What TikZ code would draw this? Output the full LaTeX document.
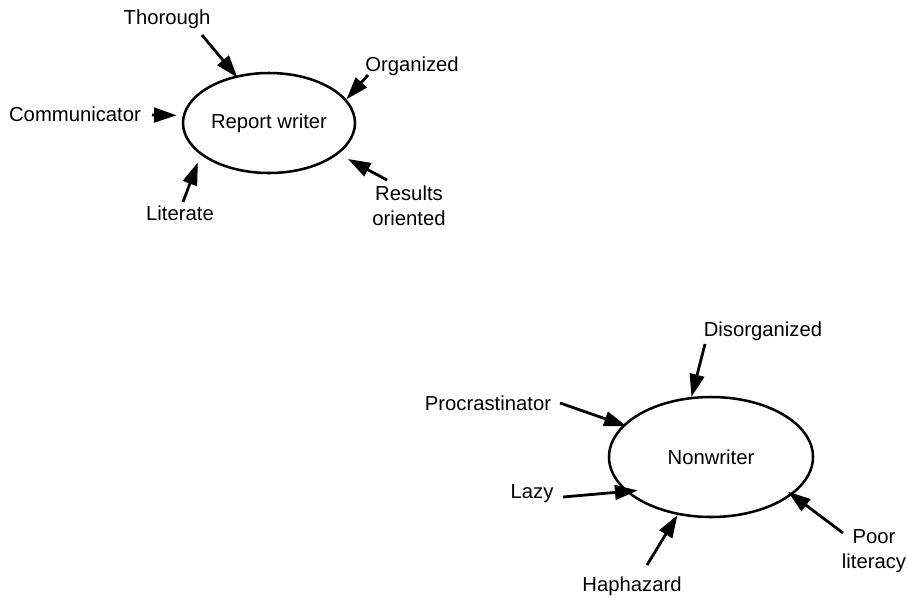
\documentclass[tikz,border=0pt]{standalone}
\usepackage{fontspec}
\setmainfont{Liberation Sans}
\usetikzlibrary{shapes.geometric,arrows.meta}
\tikzset{
  trait/.style={font=\fontsize{15.2}{18.8}\selectfont, inner sep=1pt, align=center},
  role/.style={draw, ellipse, line width=1.9pt, inner sep=0pt, font=\fontsize{15.2}{18.8}\selectfont},
  pull/.style={-{Triangle[length=17pt,width=11pt]}, line width=2.1pt},
}

\begin{document}
\begin{tikzpicture}[x=0.75pt,y=-0.75pt]
  \useasboundingbox (0,0) rectangle (907,597);

  % report writer
  \node[role, minimum width=129pt, minimum height=75pt] (rw) at (269,123) {Report writer};
  \node[trait] (thor) at (167,19)  {Thorough};
  \node[trait] (org)  at (412,66)  {Organized};
  \node[trait] (comm) at (75,114)  {Communicator};
  \node[trait] (lit)  at (180,213) {Literate};
  \node[trait] (res)  at (409,206) {Results\\oriented};

  \coordinate (thorT) at (202,35);
  \coordinate (orgT)  at (368,75);
  \coordinate (commT) at (152,115);
  \coordinate (litT)  at (183,202);
  \coordinate (resT)  at (387,180);

  \draw[pull, shorten >=-2pt]  (thorT) -- (rw.125);
  \draw[pull]                  (orgT)  -- (rw.17);
  \draw[pull, shorten >=4.5pt] (commT) -- (rw.175);
  \draw[pull, shorten >=6pt]   (litT)  -- (rw.205);
  \draw[pull, shorten >=8pt]   (resT)  -- (rw.-24);

  % nonwriter
  \node[role, minimum width=153pt, minimum height=90pt] (nw) at (711,457) {Nonwriter};
  \node[trait] (dis)  at (763,331) {Disorganized};
  \node[trait] (proc) at (488,403) {Procrastinator};
  \node[trait] (lazy) at (532,494) {Lazy};
  \node[trait] (hap)  at (632,586) {Haphazard};
  \node[trait] (poor) at (874,551) {Poor\\literacy};

  \coordinate (disT)  at (705,344);
  \coordinate (procT) at (560,403);
  \coordinate (lazyT) at (563,497);
  \coordinate (hapT)  at (647,565);
  \coordinate (poorT) at (843,533);

  \draw[pull]                  (disT)  -- (nw.108);
  \draw[pull, shorten >=-3pt]  (procT) -- (nw.160);
  \draw[pull, shorten >=-9pt]  (lazyT) -- (nw.202);
  \draw[pull]                  (hapT)  -- (nw.240);
  \draw[pull, shorten >=-4pt]  (poorT) -- (nw.-25);
\end{tikzpicture}
\end{document}
